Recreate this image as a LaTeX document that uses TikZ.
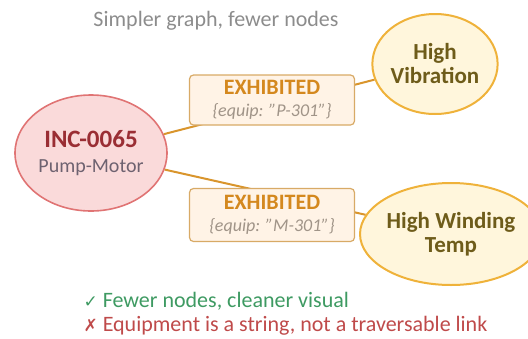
\documentclass[tikz,border=0pt]{standalone}
\usepackage{fontspec}
\setmainfont{Carlito}
\newfontfamily\symfont{DejaVu Sans}
\usepackage{xcolor}
\usetikzlibrary{shapes.geometric}

\definecolor{incfill}{HTML}{FADADA}
\definecolor{incline}{HTML}{E07474}
\definecolor{incdark}{HTML}{9A2E34}
\definecolor{incsub}{HTML}{6E6270}
\definecolor{symfill}{HTML}{FFF6DC}
\definecolor{symline}{HTML}{EFB23A}
\definecolor{symtext}{HTML}{6E5C1A}
\definecolor{relfill}{HTML}{FFF3E6}
\definecolor{relline}{HTML}{D8AA66}
\definecolor{reltext}{HTML}{D4881E}
\definecolor{propgray}{HTML}{A09488}
\definecolor{edgecol}{HTML}{D9952C}
\definecolor{okgreen}{HTML}{3E9A62}
\definecolor{badred}{HTML}{BF4A4A}

\tikzset{
  incident/.style={ellipse, draw=incline, fill=incfill, line width=1.6pt,
    minimum width=152pt, minimum height=116pt, inner sep=0pt, align=center,
    font=\fontsize{20}{25}\selectfont},
  symptom/.style={ellipse, draw=symline, fill=symfill, line width=2pt,
    inner sep=0pt, align=center, text=symtext,
    font=\fontsize{23}{24}\selectfont\bfseries},
  relbox/.style={rectangle, rounded corners=4pt, draw=relline, fill=relfill,
    line width=1.2pt, minimum width=165pt, minimum height=50pt,
    inner sep=0pt, align=center, font=\fontsize{18}{22}\selectfont},
  edge/.style={draw=edgecol, line width=2pt},
  note/.style={anchor=west, font=\fontsize{22}{24}\selectfont},
}

\begin{document}
\begin{tikzpicture}[x=1pt,y=-1pt]
  \useasboundingbox (0,0) rectangle (528,338);

  \node[text=black!45, font=\fontsize{22}{24}\selectfont] (title) at (216,21) {Simpler graph, fewer nodes};

  % nodes
  \node[incident] (inc) at (91,153)
    {{\fontsize{25}{25}\selectfont\bfseries\color{incdark}INC-0065}\\
     {\fontsize{20}{25}\selectfont\color{incsub}Pump-Motor}};
  \node[symptom, minimum width=124pt, minimum height=100pt] (vib) at (435,64)
    {High\\Vibration};
  \node[symptom, minimum width=152pt, minimum height=102pt] (wind) at (451,234)
    {High Winding\\Temp};

  % relationships
  \draw[edge] (inc) -- (vib);
  \draw[edge] (inc) -- (wind);

  \node[relbox] (rel1) at (272,100)
    {{\fontsize{22}{22}\selectfont\bfseries\color{reltext}EXHIBITED}\\
     {\itshape\color{propgray}\{equip: "P-301"\}}};
  \node[relbox, minimum height=53pt] (rel2) at (272,215)
    {{\fontsize{22}{22}\selectfont\bfseries\color{reltext}EXHIBITED}\\
     {\itshape\color{propgray}\{equip: "M-301"\}}};

  % notes
  \node[note, text=okgreen] (pro) at (80,301)
    {{\symfont\fontsize{17}{20}\selectfont ✓} Fewer nodes, cleaner visual};
  \node[note, text=badred] (con) at (80,326)
    {{\symfont\fontsize{17}{20}\selectfont ✗} Equipment is a string, not a traversable link};
\end{tikzpicture}
\end{document}
